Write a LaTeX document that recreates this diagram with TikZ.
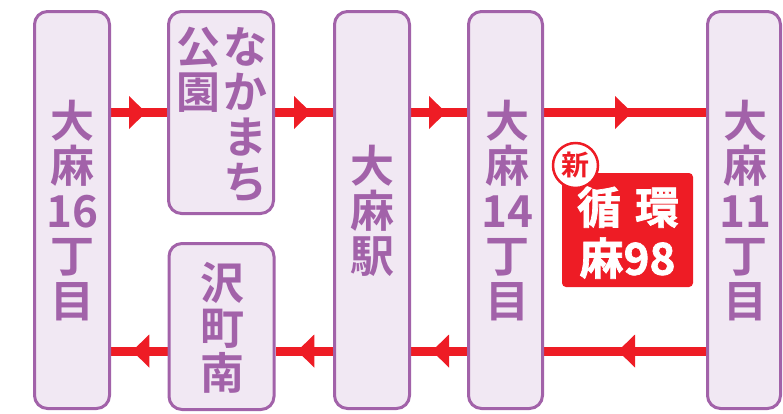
\documentclass[tikz,border=0pt]{standalone}
\usepackage{fontspec}
\setmainfont{Noto Sans CJK JP}[BoldFont={Noto Sans CJK JP Bold}]
\newfontfamily\heavyfont{Noto Sans CJK JP Bold}[FakeBold=1.6]
\usetikzlibrary{decorations.markings,backgrounds}
\definecolor{purp}{HTML}{A262A9}
\definecolor{lav}{HTML}{F1E8F3}
\definecolor{rred}{HTML}{EE1C25}
\tikzset{
  stopbox/.style={draw=purp, fill=lav, line width=3pt, rounded corners=13pt, inner sep=0pt},
  lbl/.style={text=purp, font=\bfseries\fontsize{44}{45}\selectfont, align=center, inner sep=0pt},
  route/.style={draw=rred, line width=9pt, postaction={decorate},
    decoration={markings, mark=at position 0.5 with {\fill[rred] (7pt,0pt) -- (-10pt,16.5pt) -- (-10pt,-16.5pt) -- cycle;}}},
  badgetext/.style={text=white, font=\heavyfont\fontsize{44}{44}\selectfont, inner sep=0pt},
}
\begin{document}
\begin{tikzpicture}[x=1pt,y=-1pt]
\useasboundingbox (0,0) rectangle (783,413);
% stops
\node[stopbox, minimum width=75pt, minimum height=397pt] (b1) at (72,210) {};
\node[stopbox, minimum width=105pt, minimum height=202pt] (b2) at (221,112.5) {};
\node[stopbox, minimum width=105pt, minimum height=166pt] (b3) at (221.5,326.5) {};
\node[stopbox, minimum width=75pt, minimum height=397pt] (b4) at (372,210) {};
\node[stopbox, minimum width=74pt, minimum height=397pt] (b5) at (505.5,210) {};
\node[stopbox, minimum width=73pt, minimum height=397pt] (b6) at (744,210) {};
% labels
\node[lbl] (l1) at (72,210.5) {大\\麻\\16\\丁\\目};
\node[lbl] (l2a) at (245,114.5) {な\\か\\ま\\ち};
\node[lbl] (l2b) at (198,70) {公\\園};
\node[lbl] (l3) at (222,327.5) {沢\\町\\南};
\node[lbl] (l4) at (372,210.5) {大\\麻\\駅};
\node[lbl] (l5) at (507,210.5) {大\\麻\\14\\丁\\目};
\node[lbl] (l6) at (745,210.5) {大\\麻\\11\\丁\\目};
% routes
\begin{scope}[on background layer]
\draw[route] (b1.east |- 0,112.5) -- (b2.west |- 0,112.5);
\draw[route] (b2.east |- 0,112.5) -- (b4.west |- 0,112.5);
\draw[route] (b4.east |- 0,112.5) -- (b5.west |- 0,112.5);
\draw[route] (b5.east |- 0,112.5) -- (b6.west |- 0,112.5);
\draw[route] (b6.west |- 0,351) -- (b5.east |- 0,351);
\draw[route] (b5.west |- 0,351) -- (b4.east |- 0,351);
\draw[route] (b4.west |- 0,351) -- (b3.east |- 0,351);
\draw[route] (b3.west |- 0,351) -- (b1.east |- 0,351);
\end{scope}
% badge
\node[fill=rred, rounded corners=4pt, minimum width=131pt, minimum height=114pt, inner sep=0pt] (badge) at (627.5,230) {};
\node[badgetext] (bt1) at (628,207) {循\hspace{14pt}環};
\node[badgetext] (bt2) at (627.5,258) {麻98};
\node[circle, draw=rred, fill=white, line width=2.5pt, minimum size=45pt, inner sep=0pt, text=rred, font=\bfseries\fontsize{28}{28}\selectfont] (new) at (575.5,165.5) {新};
\end{tikzpicture}
\end{document}
